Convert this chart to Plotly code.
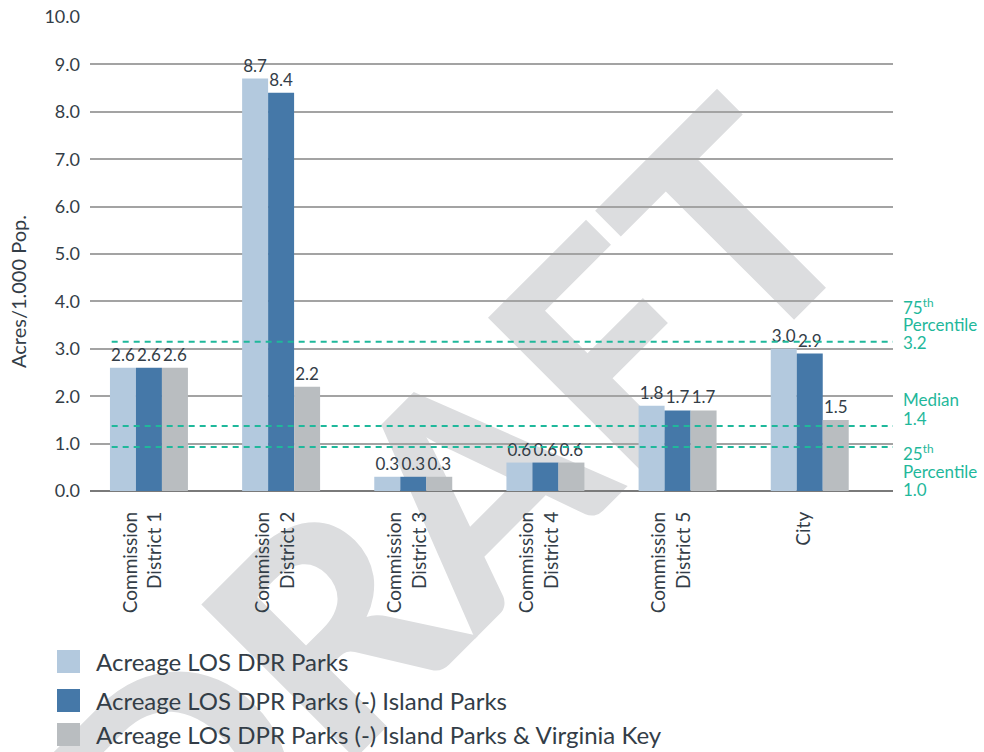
import plotly.graph_objects as go

# ---------------- data ----------------
categories = ["Commission<br>District 1", "Commission<br>District 2", "Commission<br>District 3",
              "Commission<br>District 4", "Commission<br>District 5", "City"]
series_names = ["Acreage LOS DPR Parks",
                "Acreage LOS DPR Parks (-) Island Parks",
                "Acreage LOS DPR Parks (-) Island Parks & Virginia Key"]
los_all = [2.6, 8.7, 0.3, 0.6, 1.8, 3.0]
los_no_island = [2.6, 8.4, 0.3, 0.6, 1.7, 2.9]
los_no_island_vk = [2.6, 2.2, 0.3, 0.6, 1.7, 1.5]
y_tick_values = [0, 1, 2, 3, 4, 5, 6, 7, 8, 9, 10]
percentile_values = [3.15, 1.37, 0.93]
percentile_labels = [["75<sup>th</sup>", "Percentile", "3.2"],
                     ["Median", "1.4"],
                     ["25<sup>th</sup>", "Percentile", "1.0"]]

# ---------------- style ----------------
colors = ["#b3c9de", "#4578a8", "#b9bdc0"]
teal = "#1fb89b"
text_color = "#333d47"
font_family = "Lato"

L, R, T, B = 90, 91, 17, 261
W, H = 984, 752
PW, PH = W - L - R, H - T - B


def px_to_paper(px, py):
    return (px - L) / PW, (H - B - py) / PH


fig = go.Figure()
for name, vals, col in zip(series_names, [los_all, los_no_island, los_no_island_vk], colors):
    fig.add_trace(go.Bar(
        x=categories, y=vals, name=name, showlegend=False,
        marker=dict(color=col, line=dict(width=0)),
        text=[f"{v:.1f}" for v in vals], textposition="outside",
        textfont=dict(size=17, color=text_color, family=font_family),
        constraintext="none", cliponaxis=False,
    ))

shapes = []
annotations = []

# watermark (below everything)
wx, wy = px_to_paper(441, 503)
shapes.append(dict(
    type="rect", xref="paper", yref="paper", x0=wx - 0.001, x1=wx + 0.001, y0=wy - 0.001, y1=wy + 0.001,
    line=dict(width=0), fillcolor="rgba(0,0,0,0)", layer="below",
    label=dict(text="DRAFT", textangle=-45, textposition="middle center",
               font=dict(size=300, color="#dcdddf", family=font_family, weight=900)),
))

# percentile lines
for v in percentile_values:
    shapes.append(dict(type="line", xref="paper", yref="y", x0=0.027, x1=1.0, y0=v, y1=v,
                       line=dict(color=teal, width=2, dash="6px,5px"), layer="above"))

offsets = [[-35, -17, 1], [-27, -8], [6, 25, 43]]
for v, lines, offs in zip(percentile_values, percentile_labels, offsets):
    for ln, off in zip(lines, offs):
        annotations.append(dict(xref="paper", yref="y", x=1.0, y=v, xshift=8, yshift=-off,
                                text=ln, showarrow=False, xanchor="left", yanchor="middle",
                                font=dict(size=17, color=teal, family=font_family)))

# y-axis title
tx, ty = px_to_paper(18, 292)
annotations.append(dict(xref="paper", yref="paper", x=tx, y=ty, text="Acres/1.000 Pop.",
                        textangle=-90, showarrow=False, xanchor="center", yanchor="middle",
                        font=dict(size=20, color=text_color, family=font_family)))

# legend (drawn manually to match the large swatches)
legend_rows_py = [661.5, 700.5, 734.5]
for name, col, py in zip(series_names, colors, legend_rows_py):
    x0, y0 = px_to_paper(57, py + 11.5)
    x1, y1 = px_to_paper(80, py - 11.5)
    shapes.append(dict(type="rect", xref="paper", yref="paper", x0=x0, x1=x1, y0=y0, y1=y1,
                       fillcolor=col, line=dict(width=0), layer="above"))
    ax, ay = px_to_paper(94, py)
    annotations.append(dict(xref="paper", yref="paper", x=ax, y=ay, text=name, showarrow=False,
                            xanchor="left", yanchor="middle",
                            font=dict(size=24, color=text_color, family=font_family)))

fig.update_layout(
    width=W, height=H,
    margin=dict(l=L, r=R, t=T, b=B, autoexpand=False),
    paper_bgcolor="white", plot_bgcolor="rgba(0,0,0,0)",
    barmode="group", bargap=0.41, bargroupgap=0,
    font=dict(family=font_family, color=text_color),
    shapes=shapes, annotations=annotations,
    showlegend=False,
)
fig.update_xaxes(range=[-0.446, 5.63], tickangle=-90, showgrid=False, showline=False,
                 zeroline=False, ticks="", ticklabelstandoff=16, ticklabelshift=-6, automargin=False,
                 tickfont=dict(size=19, color=text_color, family=font_family))
fig.update_yaxes(range=[0, 10], tickvals=y_tick_values, tickformat=".1f",
                 showgrid=True, gridcolor="#a3a3a3", gridwidth=1.5,
                 zeroline=True, zerolinecolor="#7a7a7a", zerolinewidth=1.5,
                 showline=False, ticks="", ticklabelstandoff=9, automargin=False,
                 tickfont=dict(size=18, color=text_color, family=font_family))

fig.write_html("out.html", config={"displayModeBar": False},
               post_script="document.body.style.margin='0';document.body.style.overflow='hidden';")
